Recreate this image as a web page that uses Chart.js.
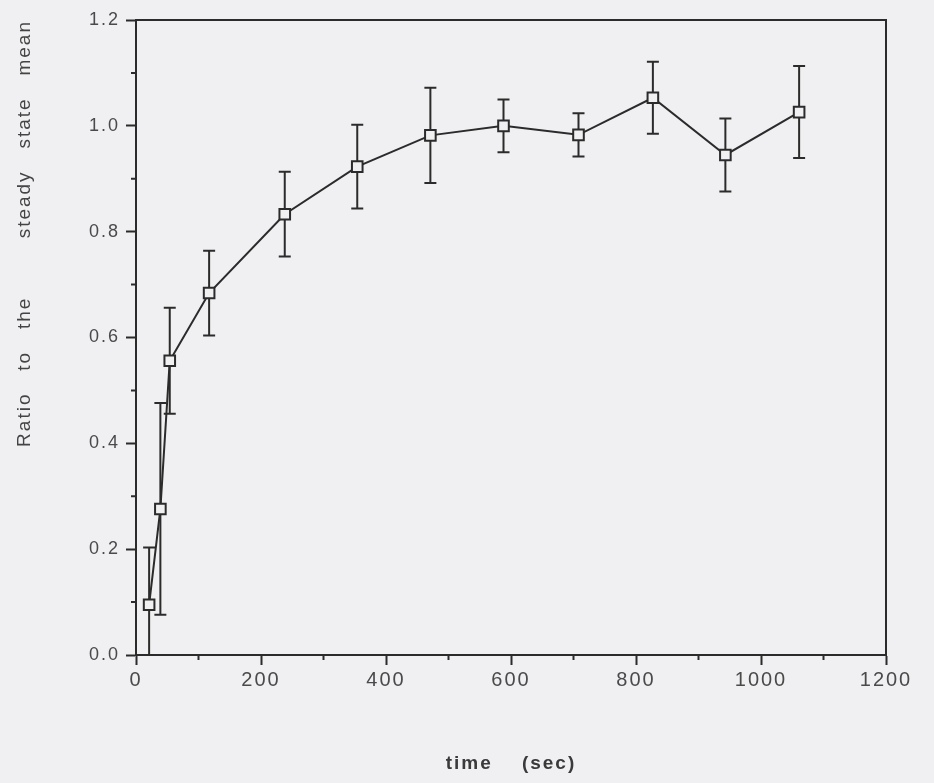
<!DOCTYPE html>
<html><head><meta charset="utf-8">
<script src="https://cdn.jsdelivr.net/npm/chart.js@4/dist/chart.umd.min.js"></script>
<style>html,body{margin:0;padding:0;background:#f0f0f2;} canvas{display:block;}</style>
</head><body>
<canvas id="c" width="934" height="783"></canvas>
<script>
const timeSec = [21, 39, 54, 117, 238, 354, 471, 588, 708, 827, 943, 1061];
const ratioMean = [0.095, 0.276, 0.556, 0.684, 0.833, 0.923, 0.982, 1.000, 0.983, 1.053, 0.945, 1.026];
const ratioErr = [0.108, 0.200, 0.100, 0.080, 0.080, 0.079, 0.090, 0.050, 0.041, 0.068, 0.069, 0.087];
const xTickLabels = ['0', '200', '400', '600', '800', '1000', '1200'];
const yTickLabels = ['0.0', '0.2', '0.4', '0.6', '0.8', '1.0', '1.2'];
const xTitle = 'time    (sec)';
const yTitle = 'Ratio   to   the        steady   state   mean';

const ink = '#2b2b2b';
const paper = '#f0f0f2';

const plotDeco = {
  id: 'plotDeco',
  beforeDraw(chart) {
    const ctx = chart.ctx;
    ctx.save();
    ctx.fillStyle = paper;
    ctx.fillRect(0, 0, chart.width, chart.height);
    ctx.restore();
    if ('letterSpacing' in ctx) ctx.letterSpacing = '2px';
  },
  beforeDatasetsDraw(chart) {
    const {ctx, chartArea: a, scales: {x, y}} = chart;
    ctx.save();
    ctx.beginPath();
    ctx.rect(a.left, a.top, a.right - a.left, a.bottom - a.top);
    ctx.clip();
    ctx.strokeStyle = ink;
    ctx.lineWidth = 2;
    timeSec.forEach((t, i) => {
      const px = x.getPixelForValue(t);
      const hi = y.getPixelForValue(ratioMean[i] + ratioErr[i]);
      const lo = y.getPixelForValue(ratioMean[i] - ratioErr[i]);
      ctx.beginPath();
      ctx.moveTo(px, hi); ctx.lineTo(px, lo);
      ctx.moveTo(px - 6, hi); ctx.lineTo(px + 6, hi);
      ctx.moveTo(px - 6, lo); ctx.lineTo(px + 6, lo);
      ctx.stroke();
    });
    ctx.restore();
  },
  afterDraw(chart) {
    const {ctx, chartArea: a, scales: {x, y}} = chart;
    ctx.save();
    ctx.strokeStyle = ink;
    ctx.lineWidth = 2;
    ctx.beginPath();
    ctx.moveTo(a.left - 1, a.top);
    ctx.lineTo(a.right, a.top);
    ctx.lineTo(a.right, a.bottom);
    ctx.stroke();
    ctx.beginPath();
    x.ticks.forEach((tk, i) => {
      if (i % 2) { const p = x.getPixelForValue(tk.value); ctx.moveTo(p, a.bottom); ctx.lineTo(p, a.bottom + 5); }
    });
    y.ticks.forEach((tk, i) => {
      if (i % 2) { const p = y.getPixelForValue(tk.value); ctx.moveTo(a.left, p); ctx.lineTo(a.left - 5, p); }
    });
    ctx.stroke();
    ctx.restore();
  }
};

const pts = timeSec.map((t, i) => ({x: t, y: ratioMean[i]}));

new Chart(document.getElementById('c'), {
  type: 'line',
  data: {
    datasets: [
      {
        data: pts,
        borderColor: ink,
        borderWidth: 2,
        tension: 0,
        pointStyle: 'rect',
        pointRadius: 7.5,
        pointBorderWidth: 2,
        pointBorderColor: ink,
        pointBackgroundColor: paper
      },
      {
        data: pts,
        showLine: false,
        pointStyle: 'circle',
        pointRadius: 1.3,
        pointBorderWidth: 0,
        pointBackgroundColor: ink
      }
    ]
  },
  options: {
    responsive: false,
    animation: false,
    devicePixelRatio: 1,
    layout: {padding: {top: 20, right: 48, bottom: 0, left: 0}},
    plugins: {legend: {display: false}, tooltip: {enabled: false}},
    scales: {
      x: {
        type: 'linear',
        min: 0, max: 1200,
        afterFit(s) { s.height = 128; },
        ticks: {
          stepSize: 100, autoSkip: false, maxRotation: 0,
          color: '#4a4a4a',
          font: {family: 'Liberation Sans', size: 20},
          padding: 3,
          callback: (v, i) => (i % 2 ? '' : xTickLabels[i / 2])
        },
        grid: {
          drawOnChartArea: false, drawTicks: true, tickLength: 10, tickWidth: 2,
          tickColor: (c) => (c.index % 2 ? 'rgba(0,0,0,0)' : ink)
        },
        border: {color: ink, width: 2},
        title: {
          display: true, text: xTitle, color: '#3a3a3a',
          font: {family: 'Liberation Sans', size: 19, weight: 'bold'},
          padding: {top: 0, bottom: 8}
        }
      },
      y: {
        type: 'linear',
        min: 0, max: 1.2,
        afterFit(s) { s.width = 136; },
        ticks: {
          stepSize: 0.1, autoSkip: false,
          color: '#4a4a4a',
          font: {family: 'Liberation Sans', size: 18},
          padding: 6,
          callback: (v, i) => (i % 2 ? '' : yTickLabels[i / 2])
        },
        grid: {
          drawOnChartArea: false, drawTicks: true, tickLength: 10, tickWidth: 2,
          tickColor: (c) => (c.index % 2 ? 'rgba(0,0,0,0)' : ink)
        },
        border: {color: ink, width: 2},
        title: {
          display: true, text: yTitle, color: '#444444', align: 'end',
          font: {family: 'Liberation Sans', size: 19},
          padding: {top: 13, bottom: 0}
        }
      }
    }
  },
  plugins: [plotDeco]
});
</script>
</body></html>
